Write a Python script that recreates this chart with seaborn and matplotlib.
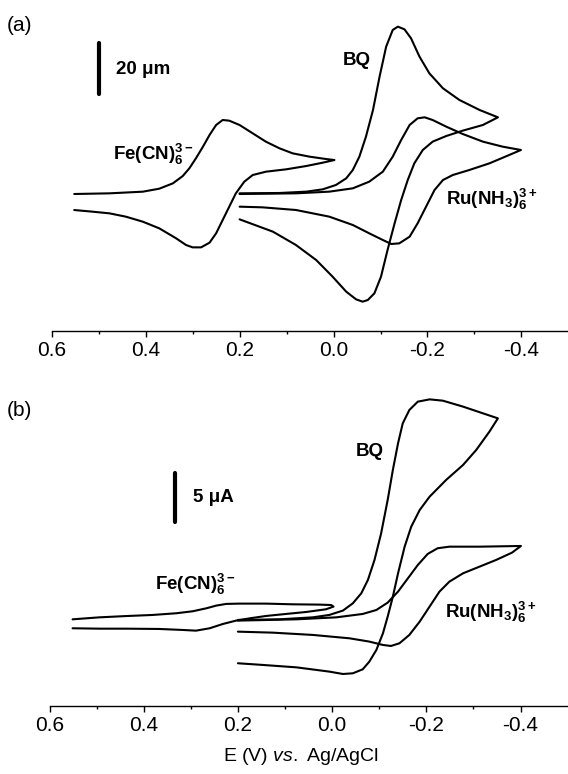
# Cyclic voltammograms, panel (a) and (b)
import pandas as pd
import seaborn as sns
import matplotlib.pyplot as plt

# -----------------------------------------
# values (E in V, I in uA, arbitrary zero)
# each list: forward (upper) branch, then the return branch
# -----------------------------------------
# panel (a)
fe_a_E = [0.552, 0.477, 0.406, 0.371, 0.342, 0.321, 0.307, 0.293, 0.278, 0.264, 0.250, 0.236, 0.222,
          0.200, 0.172, 0.144, 0.115, 0.087, 0.051, 0.016, -0.002,
          0.023, 0.058, 0.101, 0.144, 0.172, 0.190, 0.208, 0.222, 0.236, 0.250, 0.264, 0.282,
          0.300, 0.314, 0.335, 0.371, 0.406, 0.442, 0.477, 0.513, 0.552]
fe_a_I = [0.0, 0.26, 0.9, 2.06, 4.13, 6.97, 9.94, 13.82, 18.34, 22.86, 26.74, 28.68, 28.42,
          26.74, 23.51, 20.28, 17.7, 15.76, 14.47, 13.56, 13.17,
          12.14, 10.85, 9.56, 8.65, 7.36, 4.78, 0.25, -4.91, -10.08, -15.25, -18.87, -20.68,
          -20.68, -19.77, -17.19, -13.31, -10.73, -8.79, -7.5, -6.85, -6.21]

bq_a_E = [0.200, 0.115, 0.058, 0.023, -0.005, -0.027, -0.041, -0.055, -0.069, -0.084, -0.098,
          -0.112, -0.126, -0.137, -0.151, -0.165, -0.183, -0.204, -0.233, -0.268, -0.311, -0.350,
          -0.318, -0.275, -0.240, -0.211, -0.190, -0.172, -0.158, -0.144, -0.130, -0.115, -0.101,
          -0.087, -0.073, -0.062, -0.048, -0.027, 0.002, 0.037, 0.080, 0.129, 0.200]
bq_a_I = [0.26, 0.39, 0.91, 1.81, 3.49, 6.07, 9.3, 14.47, 22.22, 32.56, 45.48,
          57.11, 63.57, 64.86, 63.83, 60.34, 53.23, 46.77, 40.96, 36.44, 32.56, 29.72,
          26.75, 24.55, 22.48, 20.29, 17.06, 11.89, 5.43, -2.32, -11.37, -21.7, -32.06,
          -38.5, -41.08, -41.73, -40.83, -37.85, -32.04, -25.58, -19.77, -14.6, -9.82]

ru_a_E = [0.200, 0.080, 0.009, -0.041, -0.076, -0.105, -0.126, -0.144, -0.162, -0.179, -0.194,
          -0.211, -0.240, -0.275, -0.318, -0.360, -0.399,
          -0.374, -0.332, -0.289, -0.254, -0.233, -0.215, -0.197, -0.179, -0.162, -0.140, -0.123,
          -0.105, -0.076, -0.041, 0.009, 0.080, 0.151, 0.200]
ru_a_I = [0.0, 0.26, 0.91, 2.2, 4.78, 8.66, 14.47, 20.93, 26.75, 29.33, 29.72,
          28.68, 26.1, 23.26, 20.29, 18.35, 17.06,
          15.12, 11.89, 9.3, 7.37, 5.43, 1.55, -4.91, -11.37, -16.54, -19.12, -19.38,
          -17.83, -15.24, -12.01, -8.78, -6.2, -5.17, -4.91]

# panel (b)
fe_b_E = [0.551, 0.494, 0.437, 0.381, 0.331, 0.296, 0.267, 0.246, 0.225, 0.197, 0.140, 0.083,
          0.027, 0.002, -0.003,
          0.013, 0.055, 0.098, 0.140, 0.175, 0.204, 0.232, 0.260, 0.289, 0.317, 0.367, 0.437,
          0.494, 0.551]
fe_b_I = [-0.03, 0.17, 0.3, 0.41, 0.58, 0.78, 1.08, 1.35, 1.52, 1.55, 1.55, 1.48,
          1.45, 1.41, 1.25,
          0.98, 0.71, 0.51, 0.31, 0.07, -0.16, -0.5, -0.93, -1.17, -1.1, -1.0, -0.97,
          -0.97, -0.93]

bq_b_E = [0.200, 0.112, 0.041, 0.006, -0.023, -0.044, -0.062, -0.076, -0.090, -0.104, -0.118,
          -0.129, -0.140, -0.150, -0.164, -0.182, -0.207, -0.235, -0.278, -0.320, -0.352,
          -0.334, -0.306, -0.278, -0.242, -0.207, -0.186, -0.168, -0.154, -0.140, -0.129, -0.118,
          -0.108, -0.094, -0.079, -0.065, -0.044, -0.023, 0.006, 0.076, 0.147, 0.200]
bq_b_I = [-0.09, -0.03, 0.17, 0.41, 0.85, 1.58, 2.59, 3.93, 5.94, 8.6, 11.98,
          15.0, 17.68, 19.69, 21.03, 21.87, 22.1, 21.97, 21.37, 20.7, 20.19,
          18.85, 17.01, 15.5, 13.99, 12.31, 10.97, 9.29, 7.28, 4.6, 2.25, 0.24,
          -1.43, -3.11, -4.29, -5.06, -5.46, -5.53, -5.29, -4.86, -4.62, -4.45]

ru_b_E = [0.200, 0.076, -0.009, -0.065, -0.094, -0.118, -0.140, -0.161, -0.182, -0.203, -0.224,
          -0.249, -0.313, -0.401,
          -0.382, -0.348, -0.313, -0.278, -0.249, -0.228, -0.207, -0.186, -0.164, -0.143, -0.125,
          -0.108, -0.079, -0.037, 0.041, 0.126, 0.200]
ru_b_I = [-0.16, -0.03, 0.17, 0.51, 0.91, 1.65, 2.76, 4.1, 5.44, 6.55, 7.12,
          7.28, 7.28, 7.35,
          6.68, 5.94, 5.27, 4.6, 3.76, 2.76, 1.25, -0.26, -1.6, -2.44, -2.71,
          -2.61, -2.27, -1.94, -1.6, -1.37, -1.27]

x_ticks = [0.6, 0.4, 0.2, 0.0, -0.2, -0.4]
x_minor = [0.5, 0.3, 0.1, -0.1, -0.3]
x_tick_labels = ["0.6", "0.4", "0.2", "0.0", "-0.2", "-0.4"]

# -----------------------------------------
# style
# -----------------------------------------
sns.set_theme(style="white")
plt.rcParams["font.family"] = ["Liberation Sans", "DejaVu Sans"]
plt.rcParams["mathtext.fontset"] = "custom"
plt.rcParams["mathtext.rm"] = "Liberation Sans"
plt.rcParams["mathtext.it"] = "Liberation Sans:italic"
plt.rcParams["mathtext.bf"] = "Liberation Sans:bold"
plt.rcParams["axes.unicode_minus"] = False
plt.rcParams["text.color"] = "black"
plt.rcParams["xtick.color"] = "black"

W, H = 568, 774
fig = plt.figure(figsize=(W / 100, H / 100), dpi=100)
ax_a = fig.add_axes([51.7 / W, 1 - 330.7 / H, 516.7 / W, 330.7 / H])
ax_b = fig.add_axes([49.5 / W, 1 - 705.7 / H, 518.1 / W, 360.7 / H])


def draw_cv(ax, E, I):
    df = pd.DataFrame({"E": E, "I": I})
    sns.lineplot(data=df, x="E", y="I", sort=False, estimator=None,
                 color="black", linewidth=1.5, ax=ax)


for ax, curves in [(ax_a, [(fe_a_E, fe_a_I), (bq_a_E, bq_a_I), (ru_a_E, ru_a_I)]),
                   (ax_b, [(fe_b_E, fe_b_I), (bq_b_E, bq_b_I), (ru_b_E, ru_b_I)])]:
    for E, I in curves:
        draw_cv(ax, E, I)
    ax.set_xlim(0.6, -0.5)
    ax.set_xticks(x_ticks)
    ax.set_xticklabels(x_tick_labels)
    ax.set_xticks(x_minor, minor=True)
    ax.set_yticks([])
    ax.set_xlabel("")
    ax.set_ylabel("")
    for s in ["left", "right", "top"]:
        ax.spines[s].set_visible(False)
    ax.spines["bottom"].set_linewidth(1.0)
    ax.spines["bottom"].set_color("black")
    ax.tick_params(axis="x", which="major", direction="out", length=4.5, width=1,
                   pad=3, labelsize=15, colors="black", bottom=True)
    ax.tick_params(axis="x", which="minor", direction="out", length=2.5, width=1,
                   colors="black", bottom=True)
    ax.patch.set_alpha(0)

ax_a.set_ylim(-52.98, 75.19)
ax_b.set_ylim(-8.72, 27.57)

# scale bars
ax_a.plot([0.50, 0.50], [38.6, 58.6], color="black", linewidth=3, solid_capstyle="round")
ax_b.plot([0.333, 0.333], [9.73, 14.73], color="black", linewidth=3, solid_capstyle="round")


def put(px, py, s, **kw):
    fig.text(px / W, 1 - py / H, s, va="baseline", **kw)


bold = dict(fontsize=13.5, fontweight="bold", ha="left", color="black")
put(7, 31, "(a)", fontsize=15)
put(116, 74, "20 μm", **bold)
put(343, 65, "BQ", **bold)
put(113, 160, r"$\mathbf{Fe(CN)_6^{3-}}$", **bold)
put(446, 205, r"$\mathbf{Ru(NH_3)_6^{3+}}$", **bold)

put(7, 416, "(b)", fontsize=15)
put(193, 502, "5 μA", **bold)
put(356, 456, "BQ", **bold)
put(155, 590, r"$\mathbf{Fe(CN)_6^{3-}}$", **bold)
put(445, 618, r"$\mathbf{Ru(NH_3)_6^{3+}}$", **bold)

put(301, 761, r"E (V) $\mathit{vs.}$ Ag/AgCl", fontsize=14, ha="center")

fig.savefig("out.png", dpi=100)
